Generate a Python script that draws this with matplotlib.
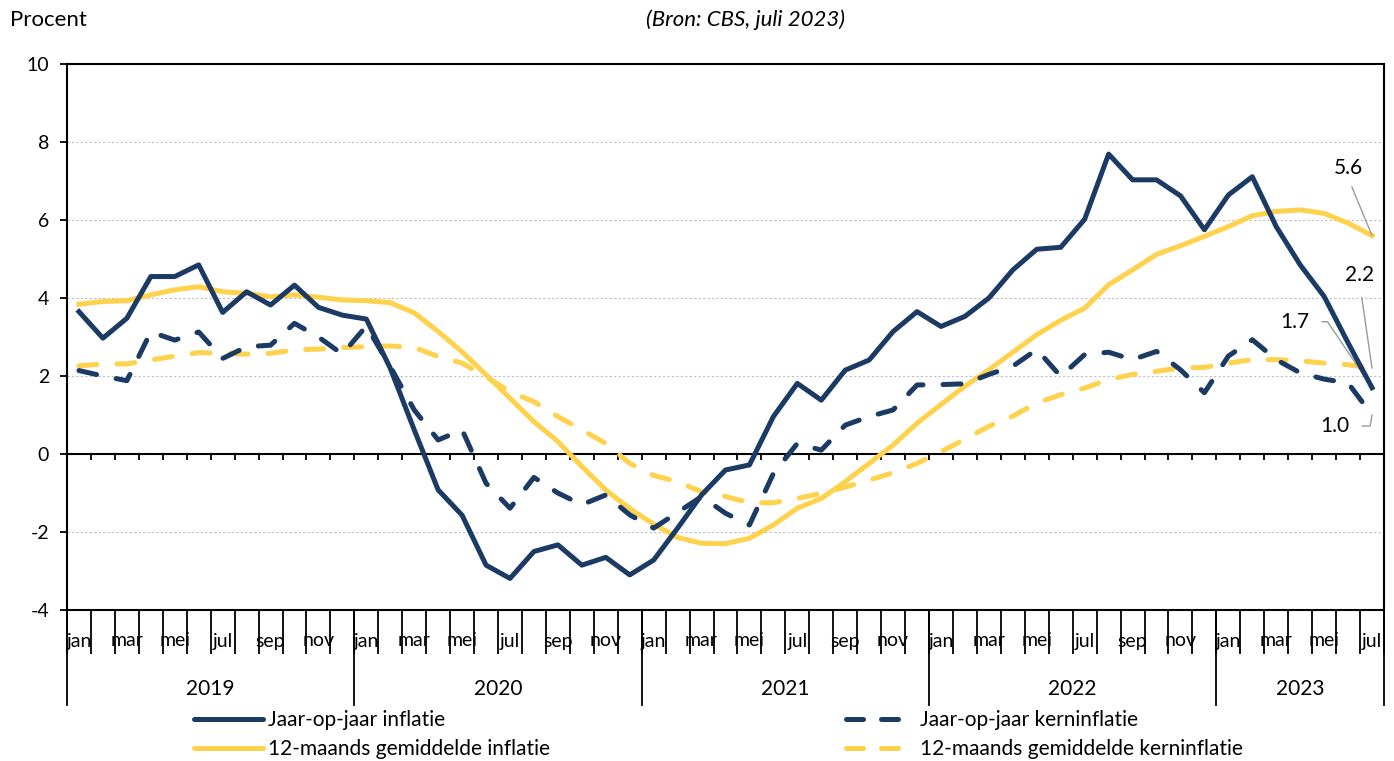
import numpy as np
import matplotlib
matplotlib.use("Agg")
import matplotlib.pyplot as plt
from matplotlib.lines import Line2D

plt.rcParams['font.family'] = ['Lato', 'DejaVu Sans']

month_names = ['jan', 'feb', 'mar', 'apr', 'mei', 'jun', 'jul', 'aug', 'sep', 'okt', 'nov', 'dec']
years = ['2019', '2020', '2021', '2022', '2023']
n_months = 55  # jan 2019 .. jul 2023

# Jaar-op-jaar inflatie
yoy = [3.65, 2.97, 3.48, 4.55, 4.55, 4.85, 3.63, 4.16, 3.82, 4.33, 3.76, 3.56,
       3.46, 2.20, 0.62, -0.92, -1.57, -2.85, -3.19, -2.50, -2.33, -2.85, -2.65, -3.10,
       -2.72, -1.90, -1.05, -0.41, -0.28, 0.96, 1.81, 1.38, 2.15, 2.41, 3.14, 3.65,
       3.27, 3.53, 4.00, 4.72, 5.25, 5.30, 6.02, 7.69, 7.03, 7.03, 6.62, 5.75,
       6.64, 7.11, 5.83, 4.85, 4.04, 2.85, 1.70]
# 12-maands gemiddelde inflatie
avg12 = [3.84, 3.91, 3.93, 4.08, 4.21, 4.29, 4.16, 4.12, 4.03, 4.08, 4.02, 3.95,
         3.93, 3.88, 3.62, 3.14, 2.62, 2.03, 1.43, 0.83, 0.32, -0.32, -0.92, -1.40,
         -1.80, -2.14, -2.29, -2.30, -2.16, -1.82, -1.39, -1.14, -0.71, -0.24, 0.23, 0.79,
         1.27, 1.74, 2.16, 2.61, 3.06, 3.43, 3.74, 4.34, 4.72, 5.12, 5.34, 5.58,
         5.83, 6.11, 6.22, 6.26, 6.17, 5.92, 5.60]
# Jaar-op-jaar kerninflatie
core = [2.14, 2.00, 1.88, 3.13, 2.92, 3.13, 2.45, 2.75, 2.79, 3.35, 3.00, 2.56,
        3.28, 2.24, 1.13, 0.36, 0.62, -0.75, -1.39, -0.60, -1.00, -1.30, -1.05, -1.56,
        -1.90, -1.50, -1.09, -1.52, -1.82, -0.50, 0.27, 0.10, 0.74, 0.96, 1.13, 1.77,
        1.78, 1.80, 2.04, 2.25, 2.68, 1.99, 2.55, 2.61, 2.42, 2.63, 2.16, 1.57,
        2.51, 2.93, 2.42, 2.08, 1.92, 1.82, 1.00]
# 12-maands gemiddelde kerninflatie
core12 = [2.26, 2.31, 2.31, 2.41, 2.51, 2.60, 2.58, 2.56, 2.58, 2.67, 2.69, 2.73,
          2.75, 2.77, 2.73, 2.50, 2.33, 1.98, 1.60, 1.34, 0.96, 0.62, 0.27, -0.24,
          -0.55, -0.71, -0.97, -1.09, -1.25, -1.25, -1.14, -1.01, -0.85, -0.67, -0.48, -0.24,
          0.06, 0.38, 0.71, 0.97, 1.31, 1.52, 1.69, 1.91, 2.04, 2.12, 2.21, 2.22,
          2.33, 2.42, 2.42, 2.39, 2.33, 2.29, 2.20]

navy = '#1b3a64'
yellow = '#ffd24d'
W, H = 1394, 761

fig = plt.figure(figsize=(W / 100, H / 100), dpi=100)
ax = fig.add_axes([67 / W, (H - 610) / H, (1384 - 67) / W, (610 - 64) / H])

x = np.arange(n_months)
lw = 3.6
dash = (0, (3.6, 4.0))
ax.plot(x, yoy, color=navy, lw=lw, zorder=4)
ax.plot(x, avg12, color=yellow, lw=lw, zorder=3)
ax.plot(x, core, color=navy, lw=lw, ls=dash, dash_capstyle='round', zorder=4)
ax.plot(x, core12, color=yellow, lw=lw, ls=dash, dash_capstyle='round', zorder=3)

ax.set_xlim(-0.5, n_months - 0.5)
ax.set_ylim(-4, 10)
ax.set_yticks(range(-4, 11, 2))
ax.set_yticklabels([str(v) for v in range(-4, 11, 2)], fontsize=14)
ax.tick_params(axis='y', direction='out', length=5, width=1.3, pad=8)
for sp in ax.spines.values():
    sp.set_linewidth(1.5)
ax.yaxis.grid(True, color='#c0c0c0', ls=(0, (2, 2)), lw=0.8)
ax.set_axisbelow(True)

# zero line with month ticks
bounds = np.arange(n_months + 1) - 0.5
ax.axhline(0, color='black', lw=1.5, zorder=2)
ax.vlines(bounds, -0.16, 0, color='black', lw=1.3, zorder=2)

# bottom axis: month boundaries
ax.set_xticks(bounds)
ax.set_xticklabels([])
ax.tick_params(axis='x', direction='out', length=32, width=1.3)

xt = ax.get_xaxis_transform()
ax_h = 610 - 64
for i in range(n_months):
    if i % 2 == 0:
        ax.text(i, -31 / ax_h, month_names[i % 12], transform=xt, ha='center', va='center', fontsize=14)
year_bounds = [-0.5, 11.5, 23.5, 35.5, 47.5, n_months - 0.5]
for b in year_bounds:
    ax.plot([b, b], [0, -95 / ax_h], transform=xt, color='black', lw=1.3, clip_on=False)
for k, yr in enumerate(years):
    ax.text((year_bounds[k] + year_bounds[k + 1]) / 2, -79 / ax_h, yr, transform=xt,
            ha='center', va='center', fontsize=15)

# end labels
last = n_months - 1
lead = dict(arrowstyle='-', color='#9a9a9a', lw=1)
ax.annotate('5.6', xy=(last, avg12[-1]), xytext=(-24, 68), textcoords='offset pixels',
            ha='center', va='center', fontsize=15,
            arrowprops=dict(lead, relpos=(0.5, 0), shrinkA=5, shrinkB=0))
ax.annotate('2.2', xy=(last, core12[-1]), xytext=(-12, 93), textcoords='offset pixels',
            ha='center', va='center', fontsize=15,
            arrowprops=dict(lead, relpos=(0.5, 0), shrinkA=7, shrinkB=0))
ax.annotate('1.7', xy=(last, yoy[-1]), xytext=(-77, 66), textcoords='offset pixels',
            ha='center', va='center', fontsize=15,
            arrowprops=dict(lead, relpos=(1, 0.5), shrinkA=7, shrinkB=0,
                            connectionstyle='angle,angleA=0,angleB=124,rad=0'))
ax.annotate('1.0', xy=(last, core[-1]), xytext=(-37, -11), textcoords='offset pixels',
            ha='center', va='center', fontsize=15,
            arrowprops=dict(lead, relpos=(1, 0.5), shrinkA=7, shrinkB=0,
                            connectionstyle='angle,angleA=0,angleB=80,rad=0'))

fig.text(10 / W, 1 - 20 / H, 'Procent', ha='left', va='center', fontsize=16)
fig.text(745 / W, 1 - 20 / H, '(Bron: CBS, juli 2023)', ha='center', va='center',
         fontsize=16, style='italic')

leg_dash = (0, (3.4, 3.6))
h1 = [Line2D([], [], color=navy, lw=lw, solid_capstyle='round'),
      Line2D([], [], color=yellow, lw=lw, solid_capstyle='round')]
h2 = [Line2D([], [], color=navy, lw=lw, ls=leg_dash, dash_capstyle='round'),
      Line2D([], [], color=yellow, lw=lw, ls=leg_dash, dash_capstyle='round')]
leg_kw = dict(frameon=False, fontsize=15, handlelength=3.3, handletextpad=0.25,
              labelspacing=0.43, borderaxespad=0, borderpad=0, loc='upper left')
l1 = fig.legend(h1, ['Jaar-op-jaar inflatie', '12-maands gemiddelde inflatie'],
                bbox_to_anchor=(194 / W, 1 - 710 / H), **leg_kw)
l2 = fig.legend(h2, ['Jaar-op-jaar kerninflatie', '12-maands gemiddelde kerninflatie'],
                bbox_to_anchor=(846 / W, 1 - 710 / H), **leg_kw)

fig.savefig('out.png', dpi=100)
